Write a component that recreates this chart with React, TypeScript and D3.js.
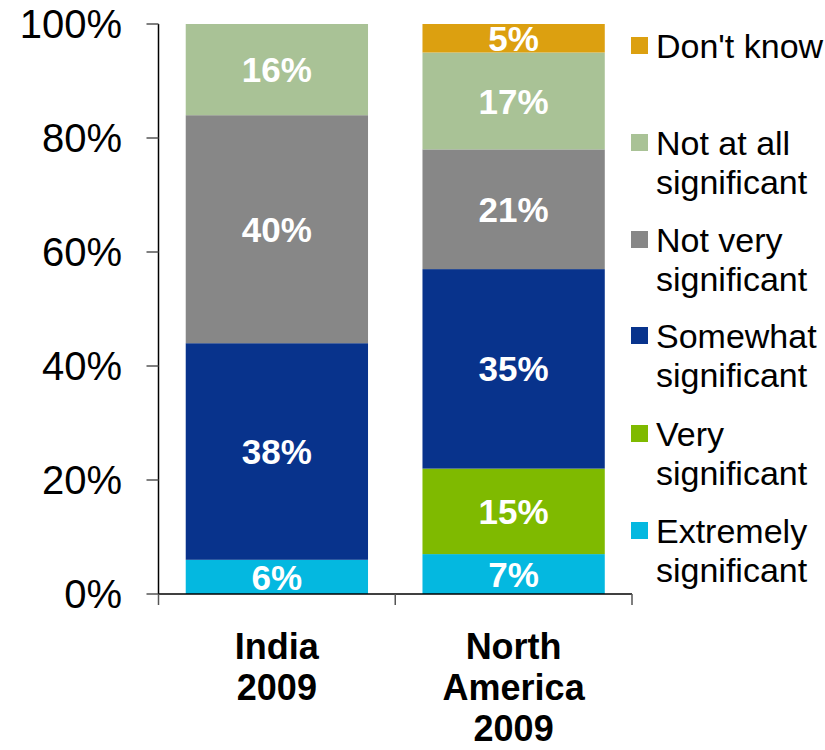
import React, { useEffect, useRef } from 'react'
import * as d3 from 'd3'

const categories = ['Extremely significant', 'Very significant', 'Somewhat significant', 'Not very significant', 'Not at all significant', "Don't know"]
const legendLines = [['Extremely', 'significant'], ['Very', 'significant'], ['Somewhat', 'significant'], ['Not very', 'significant'], ['Not at all', 'significant'], ["Don't know"]]
const colors = ['#04B8E0', '#7FBA00', '#08338C', '#878787', '#A9C296', '#DCA010']
const groups = ['India 2009', 'North America 2009']
const groupLines = [['India', '2009'], ['North', 'America', '2009']]
const india = [6, 0, 38, 40, 16, 0]
const northAmerica = [7, 15, 35, 21, 17, 5]
const yTicks = [0, 20, 40, 60, 80, 100]

const FONT = '"Liberation Sans", Arial, sans-serif'

const App = () => {
  const ref = useRef(null)

  useEffect(() => {
    const svg = d3.select(ref.current)
    svg.selectAll('*').remove()

    const left = 158.5
    const right = 632
    const top = 24
    const bottom = 594

    const y = d3.scaleLinear().domain([0, 100]).range([bottom, top])
    const x = d3.scaleBand().domain(groups).range([left, right]).paddingInner(0.23).paddingOuter(0.115)

    const rows = [india, northAmerica]
    const series = groups.map((g, gi) => {
      let acc = 0
      return rows[gi].map((v, ci) => {
        const s = { group: g, cat: ci, y0: acc, y1: acc + v, v }
        acc += v
        return s
      })
    })

    const body = svg.append('g')
    series.forEach((segs) => {
      segs.filter((s) => s.v > 0).forEach((s) => {
        body
          .append('rect')
          .attr('x', x(s.group))
          .attr('width', x.bandwidth())
          .attr('y', y(s.y1))
          .attr('height', y(s.y0) - y(s.y1))
          .attr('fill', colors[s.cat])
        body
          .append('text')
          .attr('x', x(s.group) + x.bandwidth() / 2)
          .attr('y', (y(s.y0) + y(s.y1)) / 2)
          .attr('dy', '0.36em')
          .attr('text-anchor', 'middle')
          .attr('fill', '#fff')
          .style('font-family', FONT)
          .style('font-weight', 'bold')
          .style('font-size', '35px')
          .text(s.v + '%')
      })
    })

    // y axis
    const yAxis = svg.append('g')
    yAxis.append('line').attr('x1', left).attr('x2', left).attr('y1', top).attr('y2', bottom).attr('stroke', '#000').attr('stroke-width', 1.5)
    yTicks.forEach((t) => {
      yAxis.append('line').attr('x1', left - 12).attr('x2', left).attr('y1', y(t)).attr('y2', y(t)).attr('stroke', '#555').attr('stroke-width', 1.5)
      yAxis
        .append('text')
        .attr('x', 122)
        .attr('y', y(t))
        .attr('dy', '0.36em')
        .attr('text-anchor', 'end')
        .style('font-family', FONT)
        .style('font-size', '40px')
        .text(t + '%')
    })

    // x axis
    const xAxis = svg.append('g')
    xAxis.append('line').attr('x1', left).attr('x2', right).attr('y1', bottom).attr('y2', bottom).attr('stroke', '#000').attr('stroke-width', 1.5)
    const edges = [left, (left + right) / 2, right]
    edges.forEach((e) => {
      xAxis.append('line').attr('x1', e).attr('x2', e).attr('y1', bottom).attr('y2', bottom + 11).attr('stroke', '#555').attr('stroke-width', 1.5)
    })
    groups.forEach((g, gi) => {
      const t = xAxis
        .append('text')
        .attr('text-anchor', 'middle')
        .style('font-family', FONT)
        .style('font-weight', 'bold')
        .style('font-size', '36px')
      groupLines[gi].forEach((line, li) => {
        t.append('tspan').attr('x', x(g) + x.bandwidth() / 2).attr('y', 659 + li * 41).text(line)
      })
    })

    // legend
    const legend = svg.append('g')
    const legendY = [531, 434, 336, 240, 143, 46]
    categories.forEach((c, ci) => {
      legend.append('rect').attr('x', 631).attr('y', legendY[ci] - 9).attr('width', 17).attr('height', 17).attr('fill', colors[ci])
      const t = legend.append('text').style('font-family', FONT).style('font-size', '34px')
      legendLines[ci].forEach((line, li) => {
        t.append('tspan').attr('x', 656).attr('y', legendY[ci] + li * 39).attr('dy', '0.36em').text(line)
      })
    })
  }, [])

  return (
    <svg ref={ref} width={825} height={750} style={{ position: 'absolute', left: 0, top: 0 }}></svg>
  )
}

export default App
